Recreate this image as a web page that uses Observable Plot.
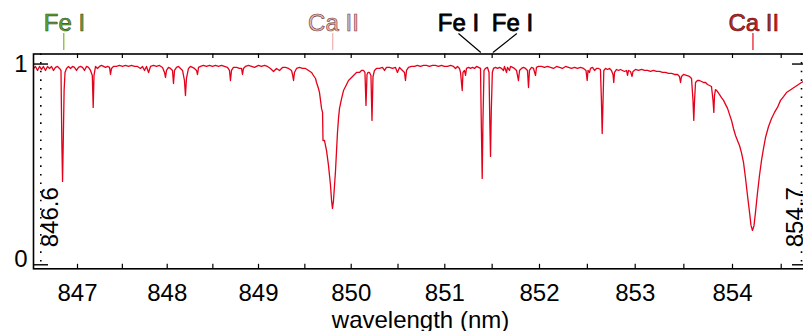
<!DOCTYPE html>
<html><head><meta charset="utf-8">
<script src="https://cdn.jsdelivr.net/npm/d3@7"></script>
<script src="https://cdn.jsdelivr.net/npm/@observablehq/plot@0.6"></script>
<style>html,body{margin:0;padding:0;background:#fff}#chart{width:803px;height:331px;overflow:hidden}</style>
</head><body><div id="chart"></div>
<script>
// ---- data ----
const wavelength = [
846.520,846.542,846.564,846.586,846.608,846.629,846.651,846.673,846.695,846.717,
846.738,846.760,846.782,846.804,846.820,846.829,846.837,846.845,846.854,846.864,
846.880,846.902,846.924,846.946,846.967,846.989,847.011,847.033,847.056,847.078,
847.100,847.123,847.145,847.165,847.175,847.184,847.201,847.223,847.245,847.268,
847.290,847.312,847.335,847.357,847.368,847.379,847.401,847.435,847.468,847.502,
847.535,847.569,847.602,847.636,847.669,847.702,847.725,847.747,847.769,847.792,
847.814,847.847,847.881,847.914,847.948,847.970,847.981,847.992,848.014,848.036,
848.058,848.069,848.080,848.102,848.124,848.146,848.168,848.189,848.200,848.211,
848.233,848.255,848.277,848.299,848.321,848.332,848.343,848.365,848.397,848.430,
848.463,848.496,848.529,848.562,848.595,848.627,848.660,848.682,848.693,848.704,
848.726,848.759,848.792,848.814,848.825,848.835,848.857,848.890,848.923,848.956,
848.978,849.000,849.032,849.065,849.097,849.129,849.162,849.194,849.227,849.259,
849.291,849.324,849.356,849.367,849.378,849.388,849.410,849.442,849.475,849.507,
849.540,849.572,849.593,849.615,849.626,849.647,849.658,849.669,849.680,849.691,
849.696,849.712,849.734,849.755,849.777,849.788,849.798,849.809,849.820,849.831,
849.842,849.852,849.863,849.874,849.896,849.917,849.950,849.971,849.993,850.025,
850.057,850.089,850.110,850.131,850.147,850.158,850.169,850.179,850.195,850.211,
850.222,850.233,850.249,850.270,850.302,850.334,850.356,850.377,850.409,850.441,
850.473,850.494,850.516,850.548,850.569,850.580,850.591,850.612,850.644,850.676,
850.708,850.740,850.772,850.804,850.836,850.868,850.900,850.932,850.964,850.996,
851.029,851.060,851.092,851.113,851.134,851.155,851.166,851.184,851.192,851.208,
851.219,851.229,851.250,851.271,851.293,851.314,851.335,851.356,851.377,851.385,
851.395,851.403,851.414,851.430,851.451,851.467,851.475,851.483,851.491,851.502,
851.514,851.535,851.557,851.578,851.599,851.620,851.630,851.652,851.662,851.683,
851.694,851.715,851.736,851.757,851.778,851.789,851.810,851.831,851.852,851.873,
851.884,851.894,851.916,851.937,851.958,851.968,851.989,852.021,852.052,852.084,
852.115,852.146,852.178,852.209,852.240,852.272,852.303,852.334,852.366,852.397,
852.428,852.460,852.486,852.498,852.507,852.522,852.533,852.554,852.575,852.596,
852.617,852.637,852.647,852.655,852.664,852.672,852.690,852.711,852.732,852.752,
852.768,852.776,852.784,852.805,852.826,852.846,852.867,852.888,852.909,852.920,
852.930,852.951,852.967,852.977,853.003,853.034,853.065,853.096,853.126,853.157,
853.188,853.219,853.250,853.281,853.311,853.342,853.373,853.404,853.435,853.455,
853.466,853.476,853.497,853.527,853.558,853.579,853.594,853.602,853.610,853.620,
853.640,853.661,853.682,853.702,853.723,853.743,853.764,853.784,853.800,853.808,
853.815,853.825,853.846,853.867,853.887,853.908,853.928,853.949,853.969,853.990,
854.010,854.031,854.051,854.072,854.092,854.113,854.134,854.154,854.175,854.190,
854.205,854.221,854.236,854.257,854.277,854.298,854.318,854.339,854.370,854.401,
854.431,854.462,854.493,854.523,854.552,854.582,854.611,854.641,854.670,854.700,
854.720
];
const flux = [
.978,.988,.968,.988,.973,.988,.968,.988,.978,.988,
.968,.983,.988,.978,.968,.619,.415,.619,.868,.958,
.978,.988,.978,.988,.983,.968,.983,.988,.983,.968,
.988,.983,.968,.943,.784,.943,.988,.978,.988,.993,
.988,.983,.988,.983,.948,.978,.988,.988,.993,.988,
.993,.988,.993,.988,.988,.978,.988,.968,.988,.958,
.988,.993,.988,.993,.983,.958,.933,.968,.983,.978,
.968,.903,.968,.983,.988,.978,.968,.918,.843,.928,
.978,.988,.983,.978,.968,.948,.983,.988,.993,.988,
.993,.988,.993,.988,.993,.988,.983,.968,.918,.968,
.983,.983,.978,.978,.948,.978,.988,.993,.988,.983,
.988,.993,.988,.993,.988,.978,.963,.978,.968,.983,
.983,.978,.968,.948,.918,.958,.978,.983,.978,.978,
.968,.958,.943,.928,.908,.878,.858,.819,.779,.759,
.619,.619,.569,.495,.395,.320,.281,.320,.395,.470,
.569,.659,.729,.779,.828,.868,.898,.918,.928,.943,
.958,.958,.968,.968,.958,.794,.948,.958,.958,.943,
.719,.938,.968,.978,.978,.983,.968,.983,.983,.978,
.983,.958,.983,.968,.958,.918,.968,.983,.988,.988,
.993,.988,.993,.993,.988,.993,.993,.988,.993,.988,
.988,.993,.988,.978,.988,.978,.958,.868,.958,.968,
.943,.978,.983,.978,.983,.978,.988,.983,.978,.719,
.430,.719,.968,.978,.983,.958,.719,.540,.769,.958,
.978,.983,.978,.983,.978,.968,.988,.958,.983,.968,
.988,.983,.978,.968,.918,.968,.978,.983,.978,.968,
.883,.968,.983,.978,.943,.983,.988,.988,.983,.988,
.983,.978,.988,.983,.978,.988,.983,.978,.983,.978,
.983,.978,.968,.918,.968,.958,.978,.983,.968,.978,
.978,.973,.819,.654,.819,.968,.978,.973,.978,.968,
.948,.908,.958,.973,.968,.973,.968,.963,.968,.943,
.968,.963,.938,.963,.973,.968,.973,.968,.968,.963,
.968,.963,.963,.958,.958,.953,.953,.948,.948,.938,
.908,.938,.948,.943,.938,.928,.819,.719,.819,.908,
.918,.918,.913,.908,.908,.898,.893,.888,.819,.759,
.843,.873,.863,.848,.833,.819,.799,.779,.749,.719,
.679,.644,.619,.594,.559,.510,.430,.345,.261,.196,
.171,.196,.261,.360,.445,.520,.579,.634,.689,.729,
.759,.784,.819,.838,.858,.868,.878,.888,.898,.908,
.913
];
const xTickValues = [847,847.5,848,848.5,849,849.5,850,850.5,851,851.5,852,852.5,853,853.5,854,854.5];
const xTickLabels = [847,848,849,850,851,852,853,854];
const yTickValues = [0, 1];
const rangeLimits = [846.6, 854.7];
const lineNames = ["Fe I", "Ca II", "Fe I", "Fe I", "Ca II"];
const lineWavelengths = [846.85, 849.80, 851.395, 851.483, 854.21];

// ---- styles ----
const FONT = "'Liberation Sans', Arial, Helvetica, sans-serif";
const labelFill = {0: "#66a530", 1: "#ecbaba", 2: "#000", 3: "#000", 4: "#d81e1e"};
const labelStroke = {0: "#2e4a1a", 1: "#6a3434", 2: "#000", 3: "#000", 4: "#4a0a0a"};
const labelStrokeW = {0: 0.6, 1: 0.6, 2: 0.8, 3: 0.8, 4: 0.6};
const tickColor = {0: "#8cc63f", 1: "#f2b8b8", 4: "#e8303a"};

const spectrum = wavelength.map((w, i) => ({w, f: flux[i]}));
const idx = lineNames.map((_, i) => i);
const vertIdx = [0, 1, 4];

const W = 803, H = 331;
const mL = 33, mR = -4, mT = 53.5, mB = 62.7;
const frameH = H - mT - mB;

// The spectrograph's dispersion is not constant: the wavelength axis is slightly
// non-linear. Calibration of the axis (wavelength -> horizontal position).
const dispersion = d3.scaleLinear()
  .domain([846.52, 846.6, 847, 848, 849, 850, 851, 852, 853, 854, 854.5, 854.7, 854.76])
  .range([33, 40.3, 77, 166.7, 258, 350.7, 444.3, 539, 634.7, 732, 780.7, 801, 807]);

const seg = {draw(ctx, l) { ctx.moveTo(0, 0); ctx.lineTo(0, -l); }};

const chart = Plot.plot({
  width: W, height: H,
  marginLeft: mL, marginRight: mR, marginTop: mT, marginBottom: mB,
  style: {fontFamily: FONT, background: "#fff", overflow: "visible"},
  x: {transform: d => dispersion(d), domain: [33, 807], range: [33, 807], axis: null},
  y: {domain: [-0.02, 1.05], axis: null},
  marks: [
    Plot.ruleX(rangeLimits, {stroke: "#000", strokeWidth: 1.6, strokeDasharray: "1.6,7"}),
    Plot.line(spectrum, {x: "w", y: "f", stroke: "#e5001b", strokeWidth: 1.3}),
    Plot.frame({stroke: "#000", strokeWidth: 1.6}),
    Plot.ruleX(xTickValues, {stroke: "#000", strokeWidth: 1.2, insetTop: frameH - 4.5}),
    Plot.ruleX(xTickValues, {stroke: "#000", strokeWidth: 1.2, insetBottom: frameH - 4.5}),
    Plot.ruleY(yTickValues, {stroke: "#000", strokeWidth: 1.4, insetRight: 807 - 33 - 15}),
    Plot.ruleY(yTickValues, {stroke: "#000", strokeWidth: 1.4, insetLeft: 807 - 33 - 15}),
    Plot.text(xTickLabels, {x: d => d, text: d => String(d), frameAnchor: "bottom", dy: 31.7,
      lineAnchor: "bottom", fontSize: 24, fill: "#000", fontFamily: FONT}),
    Plot.text(yTickValues.filter(d => d === 1), {y: d => d, text: d => String(d), frameAnchor: "left",
      dx: -6, textAnchor: "end", fontSize: 24, fill: "#000", fontFamily: FONT}),
    Plot.text(yTickValues.filter(d => d === 0), {y: d => d, text: d => String(d), frameAnchor: "left",
      dx: -6, dy: -5, textAnchor: "end", fontSize: 24, fill: "#000", fontFamily: FONT}),
    Plot.text(["wavelength (nm)"], {frameAnchor: "bottom", dy: 59.5, lineAnchor: "bottom",
      fontSize: 24, fill: "#000", fontFamily: FONT}),
    Plot.text([rangeLimits[0]], {x: d => d, text: d => d.toFixed(1), frameAnchor: "bottom", dy: -21.5,
      dx: 17.5, rotate: -90, textAnchor: "start", lineAnchor: "bottom", fontSize: 24, fill: "#000", fontFamily: FONT}),
    Plot.text([rangeLimits[1]], {x: d => d, text: d => d.toFixed(1), frameAnchor: "bottom", dy: -21.5,
      dx: 1, rotate: -90, textAnchor: "start", lineAnchor: "bottom", fontSize: 24, fill: "#000", fontFamily: FONT}),
    Plot.ruleX(vertIdx, {x: i => lineWavelengths[i], stroke: i => tickColor[i], strokeWidth: 1.4,
      insetTop: -20.5, insetBottom: frameH + 3.5}),
    Plot.vector([2], {x: i => lineWavelengths[i], frameAnchor: "top", dx: -1.7, dy: -1.8,
      rotate: -49.7, length: 28.5, anchor: "start", shape: seg, r: 0, stroke: "#000", strokeWidth: 1.2}),
    Plot.vector([3], {x: i => lineWavelengths[i], frameAnchor: "top", dx: 2.7, dy: -1.8,
      rotate: 51.7, length: 29.7, anchor: "start", shape: seg, r: 0, stroke: "#000", strokeWidth: 1.2}),
    ...idx.map(i => Plot.text([i], {x: j => lineWavelengths[j], text: j => lineNames[j], frameAnchor: "top",
      dy: -23.5, dx: i === 2 ? -23.7 : i === 3 ? 22 : 0.8, lineAnchor: "bottom", fontSize: 24,
      fill: labelFill[i], stroke: labelStroke[i], strokeWidth: labelStrokeW[i], paintOrder: "fill", fontFamily: FONT}))
  ]
});
document.getElementById("chart").appendChild(chart);
</script>
</body></html>
